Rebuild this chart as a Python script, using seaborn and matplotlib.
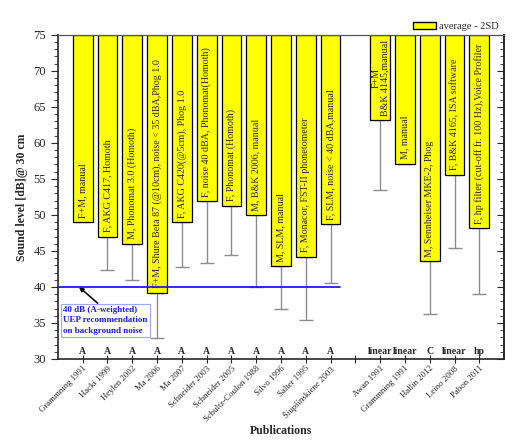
import numpy as np
import pandas as pd
import matplotlib
matplotlib.use("Agg")
import matplotlib.pyplot as plt
import seaborn as sns
from matplotlib.patches import Patch
from matplotlib.ticker import MultipleLocator

# Данные
publications = ["Grammning 1991", "Hacki 1999", "Heylen 2002", "Ma 2006", "Ma 2007",
                "Schneider 2003", "Schneider 2005", "Schultz-Coulon 1988", "Silvo 1996",
                "Salter 1995", "Šiupšinskiene 2003",
                "Awan 1991", "Grammning 1991", "Hallin 2012", "Leino 2008", "Pabon 2011"]
positions = [1, 2, 3, 4, 5, 6, 7, 8, 9, 10, 11, 13, 14, 15, 16, 17]
avg_minus_2sd = [49.0, 47.0, 46.0, 39.2, 49.0, 51.9, 51.3, 50.0, 42.9, 44.2, 48.7,
                 63.2, 57.1, 43.6, 55.6, 48.2]
lower_err = [np.nan, 42.4, 41.0, 32.9, 42.7, 43.3, 44.4, 40.0, 36.9, 35.4, 40.5,
             53.5, np.nan, 36.2, 45.4, 39.0]
bar_labels = ["F+M, manual", "F, AKG C417, Homoth", "M, Phonomat 3.0 (Homoth)",
              "F+M, Shure Beta 87 (@10cm), noise < 35 dBA,Phog 1.0",
              "F, AKG C420(@5cm), Phog 1.0", "F, noise 40 dBA, Phonomat(Homoth)",
              "F, Phonomat (Homoth)", "M, B&K 2006, manual", "M, SLM, manual",
              "F, Monacor, FST-II phonetometer", "F, SLM, noise < 40 dBA,manual",
              "F+M\nB&K 4145,manual", "M, manual", "M, Sennheiser MKE-2, Phog",
              "F, B&K 4165, ISA software", "F, hp filter (cut-off fr. 100 Hz),Voice Profiler"]
weighting = ["A"] * 11 + ["linear", "linear", "C", "linear", "hp"]

top = 75
df = pd.DataFrame({"pos": positions, "height": [top - v for v in avg_minus_2sd],
                   "value": avg_minus_2sd})

sns.set_style("ticks")
plt.rcParams["font.family"] = ["Liberation Serif", "DejaVu Serif"]

fig = plt.figure(figsize=(5.17, 4.41), dpi=100)
ax = fig.add_axes([0.112, 0.186, 0.863, 0.735])

# Погрешности (вниз от бара)
ax.errorbar(positions, avg_minus_2sd,
            yerr=[np.array(avg_minus_2sd) - np.array(lower_err), np.zeros(len(positions))],
            fmt="none", ecolor="#8c8c8c", elinewidth=1, capsize=5, capthick=1, zorder=1)

# Бары висят от 75 вниз
sns.barplot(data=df, x="pos", y="height", native_scale=True, bottom=df["value"],
            color="#ffff00", edgecolor="black", linewidth=0.9, width=0.8,
            saturation=1, ax=ax, zorder=2)

for p, v, lab in zip(positions, avg_minus_2sd, bar_labels):
    ax.text(p, v + 0.6, lab, rotation=90, ha="center", va="bottom", fontsize=7.2,
            zorder=3, linespacing=0.9)

for p, w in zip(positions, weighting):
    ax.text(p, 30.4, w, ha="center", va="bottom", fontsize=7, fontweight="bold")

# Линия 40 dB
ax.plot([0, 11.4], [40, 40], color="#1a1aff", lw=1.3, zorder=4)
ax.annotate("40 dB (A-weighted)\nUEP recommendation\non background noise",
            xy=(0.85, 40), xytext=(0.22, 37.3), color="#1a1aff", fontsize=6.5,
            fontweight="bold", ha="left", va="top", linespacing=1.35,
            bbox=dict(boxstyle="square,pad=0.3", fc="white", ec="#9fa8ff", lw=0.8),
            arrowprops=dict(arrowstyle="-|>", color="black", lw=1.1,
                            shrinkA=0, shrinkB=0, relpos=(0.45, 1.0)))

ax.set_xlim(0, 18)
ax.set_ylim(30, 75)
ax.set_xticks(list(range(1, 18)))
ax.set_xticklabels(publications[:11] + [""] + publications[11:], rotation=45,
                   ha="right", rotation_mode="anchor", fontsize=6.3)
ax.yaxis.set_major_locator(MultipleLocator(5))
ax.yaxis.set_minor_locator(MultipleLocator(1))
ax.tick_params(axis="y", which="major", direction="out", length=5, labelsize=9)
ax.tick_params(axis="y", which="minor", direction="out", length=3)
ax.tick_params(axis="x", which="major", direction="inout", length=6, pad=1)
for s in ax.spines.values():
    s.set_visible(True)
    s.set_linewidth(1.2)
ax.spines["top"].set_linewidth(0.9)
ax.spines["top"].set_color("#555555")

# Правая ось: засечки внутрь
ax2 = ax.secondary_yaxis("right")
ax2.yaxis.set_major_locator(MultipleLocator(5))
ax2.yaxis.set_minor_locator(MultipleLocator(1))
ax2.tick_params(which="major", direction="in", length=5, labelright=False)
ax2.tick_params(which="minor", direction="in", length=3)
ax2.spines["right"].set_linewidth(1.2)

ax.set_xlabel("Publications", fontsize=8.5, fontweight="bold", labelpad=1)
ax.set_ylabel("Sound level [dB]@ 30 cm", fontsize=8.5, fontweight="bold")

ax.legend(handles=[Patch(facecolor="#ffff00", edgecolor="black", label="average - 2SD")],
          loc="lower right", bbox_to_anchor=(1.0, 0.995), frameon=False, fontsize=7.5,
          handlelength=2.2, handletextpad=0.3, borderaxespad=0.1)

fig.savefig("out.png", dpi=100)
